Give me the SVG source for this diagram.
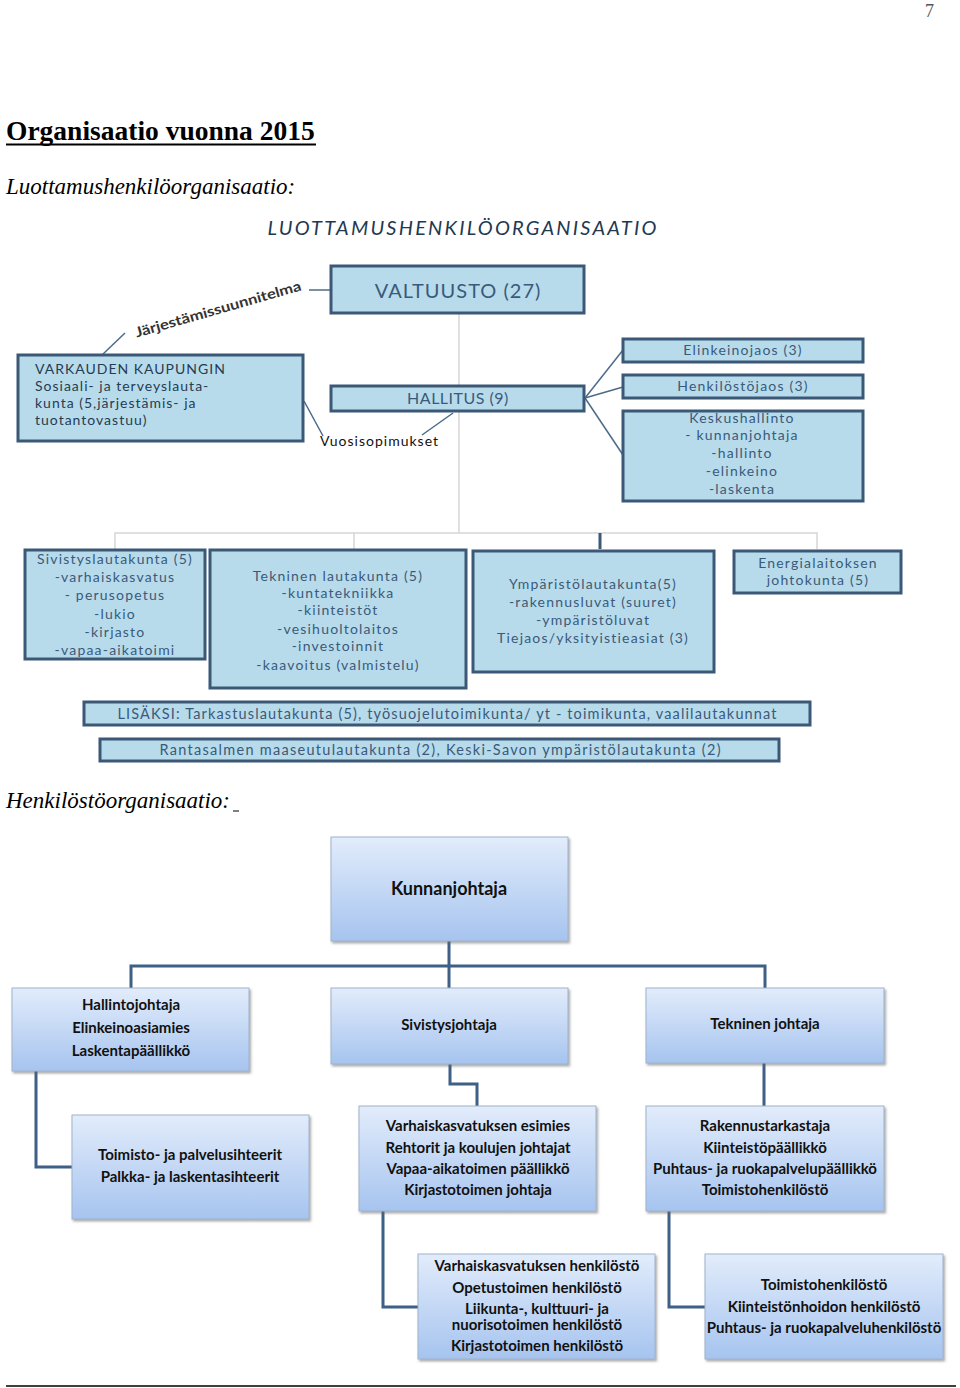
<svg xmlns="http://www.w3.org/2000/svg" width="960" height="1388" viewBox="0 0 960 1388">
<defs>
<linearGradient id="g2" x1="0" y1="0" x2="0" y2="1">
<stop offset="0" stop-color="#e2ecfb"/>
<stop offset="1" stop-color="#a6c4ef"/>
</linearGradient>
<filter id="sh" x="-5%" y="-5%" width="112%" height="115%">
<feDropShadow dx="1.5" dy="2" stdDeviation="1.2" flood-color="#666" flood-opacity="0.55"/>
</filter>
<style>
.serif{font-family:"Liberation Serif","Times New Roman",serif;fill:#000}
.c1{fill:#b8dbeb;stroke:#3b5876;stroke-width:3}
.t1{font-family:Lato,"Open Sans","Liberation Sans",sans-serif;fill:#3a5a7a;text-anchor:middle}
.b1{font-family:Lato,"Open Sans","Liberation Sans",sans-serif;fill:#3a5a7a;text-anchor:middle;font-size:14px;letter-spacing:1.2px}
.t1l{font-family:Lato,"Open Sans","Liberation Sans",sans-serif;fill:#263c52;font-size:14px;letter-spacing:1px}
.c2{fill:url(#g2);stroke:#9fb3cc;stroke-width:1;filter:url(#sh)}
.t2{font-family:Lato,"Liberation Sans",sans-serif;font-weight:bold;font-size:15px;fill:#111;text-anchor:middle}
.lg{stroke:#d6d6d6;stroke-width:1.5;fill:none}
.ld{stroke:#4c6a8a;stroke-width:1.5;fill:none}
.l2{stroke:#3e5f86;stroke-width:3;fill:none}
</style>
</defs>
<text class="serif" x="925" y="17" font-size="18" style="fill:#555">7</text>
<text class="serif" x="6" y="140" font-size="27.5" font-weight="bold">Organisaatio vuonna 2015</text>
<line x1="6" y1="144.5" x2="316" y2="144.5" stroke="#000" stroke-width="2"/>
<text class="serif" x="6" y="194" font-size="23" font-style="italic">Luottamushenkilöorganisaatio:</text>
<text class="t1" x="462" y="235" font-size="20" font-style="italic" textLength="389" lengthAdjust="spacing" style="fill:#22384f">LUOTTAMUSHENKILÖORGANISAATIO</text>

<g id="connectors1">
<line class="lg" x1="459" y1="313" x2="459" y2="533"/>
<polyline class="lg" points="115,549 115,533 817,533 817,549"/>
<line class="lg" x1="354" y1="533" x2="354" y2="549"/>
<line x1="600" y1="533" x2="600" y2="549" stroke="#3b5876" stroke-width="3"/>
<line class="ld" x1="309" y1="290" x2="331" y2="290"/>
<line class="ld" x1="102" y1="355" x2="125" y2="333" stroke="#8899aa"/>
<line class="ld" x1="304" y1="401" x2="323" y2="436"/>
<line class="ld" x1="453" y1="413" x2="422" y2="435"/>
<line class="ld" x1="585" y1="398" x2="623" y2="350" stroke="#8aa0b8"/>
<line class="ld" x1="585" y1="398" x2="623" y2="387"/>
<line class="ld" x1="585" y1="398" x2="623" y2="455"/>
</g>

<g id="valtuusto"><rect class="c1" x="331" y="266" width="253" height="47"/><text class="t1" x="458" y="298" font-size="20" letter-spacing="1">VALTUUSTO (27)</text></g>
<g id="jarjestamis"><text x="218" y="314" font-family="Lato,'Liberation Sans',sans-serif" font-size="14" font-weight="bold" text-anchor="middle" textLength="172" lengthAdjust="spacingAndGlyphs" transform="rotate(-16 218 309)" fill="#333">Järjestämissuunnitelma</text></g>
<g id="varkaus"><rect class="c1" x="18" y="355" width="285" height="86"/>
<text class="t1l" x="35" y="374">VARKAUDEN KAUPUNGIN</text>
<text class="t1l" x="35" y="391">Sosiaali- ja terveyslauta-</text>
<text class="t1l" x="35" y="408">kunta (5,järjestämis- ja</text>
<text class="t1l" x="35" y="425">tuotantovastuu)</text></g>
<g id="hallitus"><rect class="c1" x="331" y="386" width="253" height="25"/><text class="t1" x="458" y="404" font-size="16" letter-spacing="0.5">HALLITUS (9)</text></g>
<g id="vuosisopimukset"><text class="t1l" x="320" y="446" style="fill:#111">Vuosisopimukset</text></g>
<g id="elinkeinojaos"><rect class="c1" x="623" y="339" width="240" height="23"/><text class="b1" x="743" y="355">Elinkeinojaos (3)</text></g>
<g id="henkilostojaos"><rect class="c1" x="623" y="375" width="240" height="23"/><text class="b1" x="743" y="391">Henkilöstöjaos (3)</text></g>
<g id="keskushallinto"><rect class="c1" x="623" y="411" width="240" height="90"/>
<text class="b1" x="742" y="423">Keskushallinto</text>
<text class="b1" x="742" y="440">- kunnanjohtaja</text>
<text class="b1" x="742" y="458">-hallinto</text>
<text class="b1" x="742" y="476">-elinkeino</text>
<text class="b1" x="742" y="494">-laskenta</text></g>

<g id="sivistyslautakunta"><rect class="c1" x="25" y="550" width="180" height="109"/>
<text class="b1" x="115" y="564">Sivistyslautakunta (5)</text>
<text class="b1" x="115" y="582">-varhaiskasvatus</text>
<text class="b1" x="115" y="600">- perusopetus</text>
<text class="b1" x="115" y="619">-lukio</text>
<text class="b1" x="115" y="637">-kirjasto</text>
<text class="b1" x="115" y="655">-vapaa-aikatoimi</text></g>
<g id="tekninenlautakunta"><rect class="c1" x="210" y="550" width="256" height="138"/>
<text class="b1" x="338" y="581">Tekninen lautakunta (5)</text>
<text class="b1" x="338" y="598">-kuntatekniikka</text>
<text class="b1" x="338" y="615">-kiinteistöt</text>
<text class="b1" x="338" y="634">-vesihuoltolaitos</text>
<text class="b1" x="338" y="651">-investoinnit</text>
<text class="b1" x="338" y="670">-kaavoitus (valmistelu)</text></g>
<g id="ymparistolautakunta"><rect class="c1" x="473" y="551" width="241" height="121"/>
<text class="b1" x="593" y="589">Ympäristölautakunta(5)</text>
<text class="b1" x="593" y="607">-rakennusluvat (suuret)</text>
<text class="b1" x="593" y="625">-ympäristöluvat</text>
<text class="b1" x="593" y="643">Tiejaos/yksityistieasiat (3)</text></g>
<g id="energialaitos"><rect class="c1" x="734" y="551" width="167" height="42"/>
<text class="b1" x="818" y="568">Energialaitoksen</text>
<text class="b1" x="818" y="585">johtokunta (5)</text></g>
<g id="lisaksi"><rect class="c1" x="84" y="702" width="726" height="23"/>
<text class="t1" font-size="14.5" x="447" y="719" textLength="659" lengthAdjust="spacing">LISÄKSI: Tarkastuslautakunta (5), työsuojelutoimikunta/ yt - toimikunta, vaalilautakunnat</text></g>
<g id="rantasalmi"><rect class="c1" x="100" y="739" width="679" height="22"/>
<text class="t1" font-size="14.5" x="440" y="755" textLength="561" lengthAdjust="spacing">Rantasalmen maaseutulautakunta (2), Keski-Savon ympäristölautakunta (2)</text></g>

<text class="serif" x="6" y="808" font-size="23" font-style="italic">Henkilöstöorganisaatio:</text>
<line x1="233" y1="811" x2="239" y2="811" stroke="#000" stroke-width="1"/>

<g id="connectors2">
<line class="l2" x1="449" y1="941" x2="449" y2="988"/>
<polyline class="l2" points="131,988 131,966 765,966 765,988"/>
<polyline class="l2" points="36,1071 36,1167 72,1167"/>
<polyline class="l2" points="450,1064 450,1084 477,1084 477,1106"/>
<line class="l2" x1="764" y1="1063" x2="764" y2="1106"/>
<polyline class="l2" points="383,1211 383,1307 418,1307"/>
<polyline class="l2" points="669,1211 669,1307 705,1307"/>
</g>

<g id="kunnanjohtaja"><rect class="c2" x="331" y="837" width="237" height="104"/><text class="t2" x="449" y="895" style="font-size:18px">Kunnanjohtaja</text></g>
<g id="hallintojohtaja"><rect class="c2" x="12" y="988" width="237" height="83"/>
<text class="t2" x="131" y="1010">Hallintojohtaja</text>
<text class="t2" x="131" y="1033">Elinkeinoasiamies</text>
<text class="t2" x="131" y="1056">Laskentapäällikkö</text></g>
<g id="sivistysjohtaja"><rect class="c2" x="331" y="988" width="237" height="76"/><text class="t2" x="449" y="1030">Sivistysjohtaja</text></g>
<g id="tekninenjohtaja"><rect class="c2" x="646" y="988" width="238" height="75"/><text class="t2" x="765" y="1029">Tekninen johtaja</text></g>
<g id="toimisto"><rect class="c2" x="72" y="1115" width="237" height="104"/>
<text class="t2" x="190" y="1160">Toimisto- ja palvelusihteerit</text>
<text class="t2" x="190" y="1182">Palkka- ja laskentasihteerit</text></g>
<g id="varhaiskasvatusesimies"><rect class="c2" x="359" y="1106" width="237" height="105"/>
<text class="t2" x="478" y="1131">Varhaiskasvatuksen esimies</text>
<text class="t2" x="478" y="1153">Rehtorit ja koulujen johtajat</text>
<text class="t2" x="478" y="1174">Vapaa-aikatoimen päällikkö</text>
<text class="t2" x="478" y="1195">Kirjastotoimen johtaja</text></g>
<g id="rakennustarkastaja"><rect class="c2" x="646" y="1106" width="238" height="105"/>
<text class="t2" x="765" y="1131">Rakennustarkastaja</text>
<text class="t2" x="765" y="1153">Kiinteistöpäällikkö</text>
<text class="t2" x="765" y="1174">Puhtaus- ja ruokapalvelupäällikkö</text>
<text class="t2" x="765" y="1195">Toimistohenkilöstö</text></g>
<g id="sivistyshenkilosto"><rect class="c2" x="418" y="1254" width="237" height="105"/>
<text class="t2" x="537" y="1271">Varhaiskasvatuksen henkilöstö</text>
<text class="t2" x="537" y="1293">Opetustoimen henkilöstö</text>
<text class="t2" x="537" y="1314">Liikunta-, kulttuuri- ja</text>
<text class="t2" x="537" y="1330">nuorisotoimen henkilöstö</text>
<text class="t2" x="537" y="1351">Kirjastotoimen henkilöstö</text></g>
<g id="teknisethenkilosto"><rect class="c2" x="705" y="1254" width="238" height="105"/>
<text class="t2" x="824" y="1290">Toimistohenkilöstö</text>
<text class="t2" x="824" y="1312">Kiinteistönhoidon henkilöstö</text>
<text class="t2" x="824" y="1333">Puhtaus- ja ruokapalveluhenkilöstö</text></g>
<line x1="6" y1="1386" x2="956" y2="1386" stroke="#000" stroke-width="1.5"/>
</svg>
